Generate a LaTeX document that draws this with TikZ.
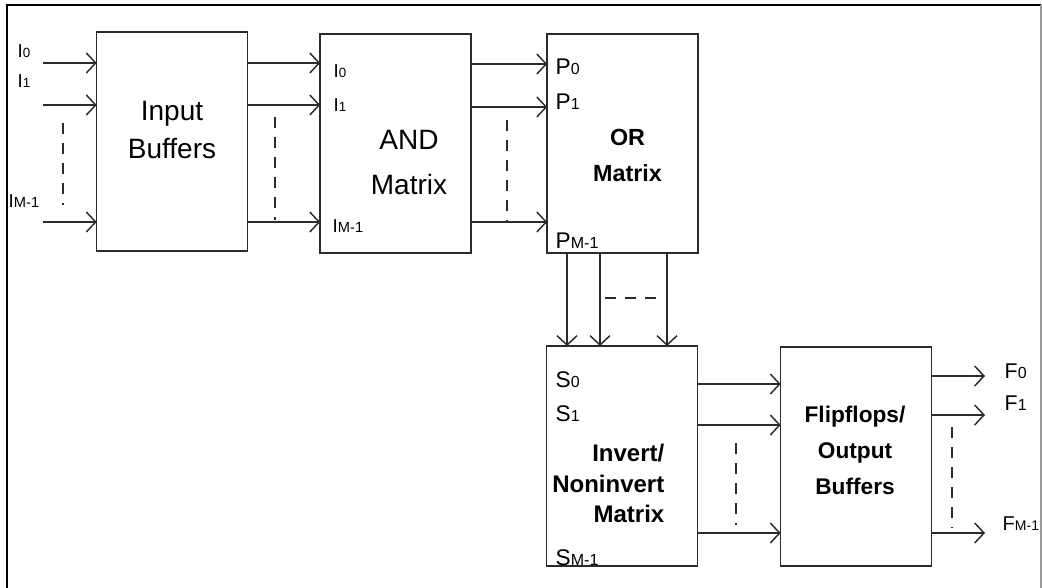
\documentclass[tikz,border=0pt]{standalone}
\usepackage{fontspec}
\setmainfont{Liberation Sans}
\usetikzlibrary{arrows.meta, calc}
\definecolor{wireGray}{HTML}{2B2B2B}
\definecolor{frameGray}{HTML}{9A9A9A}

% letter with a small index: \pin{P}{0}{12}
\newcommand{\pin}[3]{#1{\fontsize{#3}{#3}\selectfont #2}}

\begin{document}
\begin{tikzpicture}[
    x=0.75pt, y=-0.75pt,
    line width=1.1pt,
    >={Straight Barb[length=7pt,width=15pt]},
    blk/.style={draw=wireGray, rectangle, inner sep=0pt, outer sep=0pt, minimum width=113pt, minimum height=164pt},
    sig/.style={->, draw=wireGray},
    gap/.style={draw=wireGray, dash pattern=on 8pt off 7pt, line width=0.9pt},
    ilbl/.style={anchor=base west, inner sep=0pt, font=\fontsize{14}{16}\selectfont},
    plbl/.style={anchor=base west, inner sep=0pt, font=\fontsize{17}{19}\selectfont},
    flbl/.style={anchor=base west, inner sep=0pt, font=\fontsize{16}{18}\selectfont}
]
    \useasboundingbox (0,0) rectangle (1042,588);

    % frame
    \draw[black, line width=1.5pt] (7,590) -- (7,5) -- (1041,5);
    \draw[frameGray, line width=0.9pt] (1041,5) -- (1041,590);

    % blocks
    \node[blk] (inb) at (172,141.5) {};
    \node[blk] (andb) at (395.5,143.5) {};
    \node[blk] (orb) at (622.5,143.5) {};
    \node[blk, minimum height=165pt] (invb) at (622,456) {};
    \node[blk] (ffb) at (856,456.5) {};

    % block texts
    \node[font=\fontsize{21}{29}\selectfont, align=center] (inbt) at ($(inb)+(0,-11.5)$) {Input\\Buffers};
    \node[font=\fontsize{21}{34}\selectfont, align=center] (andbt) at ($(andb)+(13.5,19)$) {AND\\Matrix};
    \node[font=\bfseries\fontsize{17.5}{27}\selectfont, align=center] (orbt) at ($(orb)+(5,11.5)$) {OR\\Matrix};
    \node[font=\bfseries\fontsize{18}{23}\selectfont, align=right, inner sep=0pt, anchor=east] (invbt) at ($(invb)+(43,27.5)$) {Invert/\\Noninvert\\Matrix};
    \node[font=\bfseries\fontsize{17}{27}\selectfont, align=center] (ffbt) at ($(ffb)+(-1,-6.5)$) {Flipflops/\\Output\\Buffers};

    % pin labels
    \node[ilbl] (li0) at (17,58) {\pin{I}{0}{10}};
    \node[ilbl] (li1) at (17,88) {\pin{I}{1}{10}};
    \node[ilbl] (lim) at (8,207) {\pin{I}{M-1}{11}};
    \node[ilbl] (la0) at (333,78) {\pin{I}{0}{10}};
    \node[ilbl] (la1) at (333,112) {\pin{I}{1}{10}};
    \node[ilbl] (lam) at (332,233) {\pin{I}{M-1}{11}};
    \node[plbl] (lp0) at (555,75) {\pin{P}{0}{12}};
    \node[plbl] (lp1) at (555,110) {\pin{P}{1}{12}};
    \node[plbl] (lpm) at (555,248) {\pin{P}{M-1}{12}};
    \node[plbl] (ls0) at (555,387) {\pin{S}{0}{12}};
    \node[plbl] (ls1) at (555,421) {\pin{S}{1}{12}};
    \node[plbl] (lsm) at (555,565) {\pin{S}{M-1}{12}};
    \node[flbl] (lf0) at (1004,378) {\pin{F}{0}{12}};
    \node[flbl] (lf1) at (1004,410) {\pin{F}{1}{12}};
    \node[flbl, font=\fontsize{15}{17}\selectfont] (lfm) at (1002,530) {\pin{F}{M-1}{10.5}};

    % free ends and rows
    \coordinate (i0) at (43,63);
    \coordinate (i1) at (43,105);
    \coordinate (im) at (43,222);
    \coordinate (a0) at (0,64);
    \coordinate (a1) at (0,107);
    \coordinate (am) at (0,222);
    \coordinate (o0) at (567,0);
    \coordinate (o1) at (600,0);
    \coordinate (om) at (667,0);
    \coordinate (s0) at (0,384);
    \coordinate (s1) at (0,425);
    \coordinate (sm) at (0,533);
    \coordinate (f0) at (985,376);
    \coordinate (f1) at (985,415);
    \coordinate (fm) at (985,533);

    % inputs
    \draw[sig] (i0) -- (inb.west |- i0);
    \draw[sig] (i1) -- (inb.west |- i1);
    \draw[sig] (im) -- (inb.west |- im);

    % buffers to AND
    \draw[sig] (inb.east |- i0) -- (andb.west |- i0);
    \draw[sig] (inb.east |- i1) -- (andb.west |- i1);
    \draw[sig] (inb.east |- im) -- (andb.west |- im);

    % AND to OR
    \draw[sig] (andb.east |- a0) -- (orb.west |- a0);
    \draw[sig] (andb.east |- a1) -- (orb.west |- a1);
    \draw[sig] (andb.east |- am) -- (orb.west |- am);

    % OR to invert
    \draw[sig] (orb.south -| o0) -- (invb.north -| o0);
    \draw[sig] (orb.south -| o1) -- (invb.north -| o1);
    \draw[sig] (orb.south -| om) -- (invb.north -| om);

    % invert to flipflops
    \draw[sig] (invb.east |- s0) -- (ffb.west |- s0);
    \draw[sig] (invb.east |- s1) -- (ffb.west |- s1);
    \draw[sig] (invb.east |- sm) -- (ffb.west |- sm);

    % outputs
    \draw[sig] (ffb.east |- f0) -- (f0);
    \draw[sig] (ffb.east |- f1) -- (f1);
    \draw[sig] (ffb.east |- fm) -- (fm);

    % dashes for the rows in between
    \draw[gap] (63,123) -- (63,205);
    \draw[gap] (275,117) -- (275,220);
    \draw[gap] (507,120) -- (507,222);
    \draw[gap] (605,298) -- (660,298);
    \draw[gap] (736,443) -- (736,525);
    \draw[gap] (952,427) -- (952,528);
\end{tikzpicture}
\end{document}
